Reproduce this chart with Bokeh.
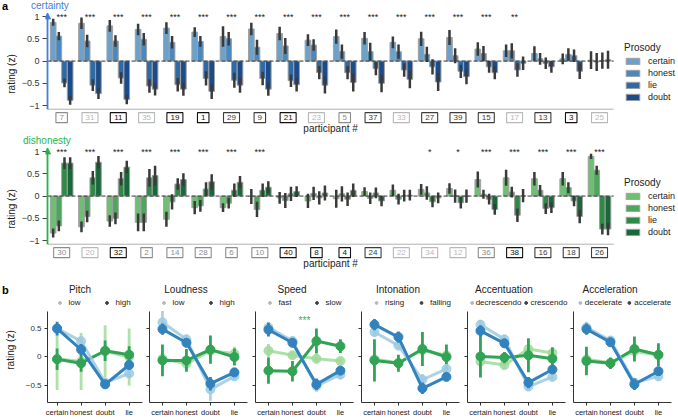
import numpy as np
from bokeh.plotting import figure
from bokeh.models import Legend, LegendItem, Arrow, NormalHead, FixedTicker, Range1d, CustomJSTickFormatter, Div
from bokeh.layouts import column, row
from bokeh.core.properties import value
from bokeh.embed import file_html
from bokeh.resources import INLINE

FONT = "Liberation Sans"
W = 678
LEFT = 45

prosody = ["certain", "honest", "lie", "doubt"]

# ---------------- panel a (top: certainty) ----------------
top_ids = ["7", "31", "11", "35", "19", "1", "29", "9", "21", "23", "5", "37", "33", "27", "39", "15", "17", "13", "3", "25"]
top_certain = [0.87, 0.85, 0.79, 0.71, 0.74, 0.65, 0.55, 0.72, 0.62, 0.47, 0.55, 0.51, 0.42, 0.50, 0.53, 0.27, 0.23, 0.17, 0.05, 0.02]
top_honest = [0.56, 0.45, 0.45, 0.49, 0.42, 0.44, 0.50, 0.31, 0.34, 0.36, 0.21, 0.21, 0.21, 0.15, 0.12, 0.17, 0.23, 0.05, 0.15, -0.02]
top_lie = [-0.49, -0.54, -0.38, -0.56, -0.53, -0.39, -0.43, -0.39, -0.44, -0.26, -0.26, -0.17, -0.20, -0.13, -0.23, -0.13, -0.20, -0.05, 0.12, 0.01]
top_doubt = [-0.88, -0.73, -0.86, -0.63, -0.63, -0.68, -0.54, -0.63, -0.53, -0.54, -0.48, -0.50, -0.41, -0.47, -0.35, -0.26, -0.05, -0.13, -0.23, 0.03]
top_err_certain = [0.08, 0.13, 0.13, 0.13, 0.13, 0.11, 0.23, 0.14, 0.15, 0.13, 0.16, 0.14, 0.13, 0.16, 0.17, 0.15, 0.14, 0.16, 0.12, 0.20]
top_err_honest = [0.09, 0.14, 0.13, 0.14, 0.14, 0.12, 0.15, 0.17, 0.18, 0.13, 0.16, 0.20, 0.16, 0.17, 0.17, 0.17, 0.17, 0.13, 0.14, 0.20]
top_err_lie = [0.10, 0.13, 0.13, 0.15, 0.15, 0.16, 0.17, 0.15, 0.14, 0.15, 0.15, 0.15, 0.15, 0.17, 0.15, 0.13, 0.15, 0.13, 0.14, 0.18]
top_err_doubt = [0.10, 0.12, 0.11, 0.14, 0.15, 0.17, 0.17, 0.15, 0.15, 0.19, 0.20, 0.20, 0.20, 0.20, 0.17, 0.15, 0.15, 0.13, 0.17, 0.20]
top_stars = ["***"] * 16 + ["**", "", "", ""]
top_box = [2, 3, 0, 3, 0, 0, 1, 1, 0, 3, 2, 1, 3, 1, 1, 1, 3, 1, 0, 3]

# ---------------- panel a (bottom: dishonesty) ----------------
bot_ids = ["30", "20", "32", "2", "14", "28", "6", "10", "40", "8", "4", "24", "22", "34", "12", "36", "38", "16", "18", "26"]
bot_certain = [-0.83, -0.69, -0.56, -0.59, -0.52, -0.26, -0.26, -0.01, -0.04, -0.11, -0.06, 0.10, 0.13, 0.15, 0.17, 0.37, 0.41, 0.39, 0.39, 0.89]
bot_honest = [-0.67, -0.46, -0.50, -0.59, -0.13, -0.22, -0.16, -0.30, -0.10, 0.06, 0.05, -0.05, -0.07, 0.07, 0.00, 0.04, 0.09, 0.13, 0.19, 0.58]
bot_lie = [0.74, 0.41, 0.39, 0.41, 0.27, 0.16, 0.13, 0.13, 0.05, -0.04, -0.07, 0.07, 0.01, -0.13, -0.15, -0.07, -0.43, -0.28, -0.11, -0.74]
bot_doubt = [0.74, 0.76, 0.65, 0.46, 0.37, 0.32, 0.31, 0.20, 0.10, 0.07, 0.13, -0.11, 0.02, -0.04, 0.00, -0.30, 0.01, -0.26, -0.46, -0.74]
bot_err_certain = [0.10, 0.12, 0.13, 0.20, 0.17, 0.15, 0.10, 0.17, 0.13, 0.16, 0.20, 0.10, 0.13, 0.12, 0.12, 0.18, 0.18, 0.15, 0.15, 0.06]
bot_err_honest = [0.12, 0.13, 0.13, 0.20, 0.17, 0.13, 0.12, 0.17, 0.17, 0.15, 0.17, 0.13, 0.12, 0.15, 0.15, 0.10, 0.12, 0.12, 0.12, 0.10]
bot_err_lie = [0.13, 0.15, 0.15, 0.20, 0.13, 0.15, 0.15, 0.15, 0.16, 0.15, 0.15, 0.12, 0.13, 0.12, 0.13, 0.12, 0.15, 0.12, 0.12, 0.12]
bot_err_doubt = [0.13, 0.14, 0.14, 0.22, 0.14, 0.17, 0.14, 0.13, 0.12, 0.17, 0.15, 0.12, 0.12, 0.12, 0.15, 0.12, 0.15, 0.12, 0.15, 0.14]
bot_stars = ["***"] * 8 + ["", "", "", "", ""] + ["*", "*"] + ["***"] * 5
bot_box = [2, 3, 0, 2, 2, 2, 2, 2, 0, 0, 0, 1, 3, 3, 3, 2, 0, 1, 1, 1]

# ---------------- panel b ----------------
b_categories = ["certain", "honest", "doubt", "lie"]
features = ["Pitch", "Loudness", "Speed", "Intonation", "Accentuation", "Acceleration"]
level_lo = ["low", "low", "fast", "rising", "decrescendo", "decelerate"]
level_hi = ["high", "high", "slow", "falling", "crescendo", "accelerate"]

pitch_cert_lo = [0.50, 0.28, -0.45, -0.29]; pitch_cert_lo_err = [0.08, 0.07, 0.07, 0.08]
pitch_cert_hi = [0.50, 0.13, -0.48, -0.14]; pitch_cert_hi_err = [0.12, 0.10, 0.07, 0.08]
pitch_dish_lo = [-0.03, -0.08, 0.10, 0.00]; pitch_dish_lo_err = [0.55, 0.50, 0.46, 0.50]
pitch_dish_hi = [-0.04, -0.11, 0.11, 0.04]; pitch_dish_hi_err = [0.19, 0.15, 0.18, 0.15]

loud_cert_lo = [0.61, 0.31, -0.57, -0.34]; loud_cert_lo_err = [0.20, 0.08, 0.20, 0.07]
loud_cert_hi = [0.49, 0.25, -0.47, -0.27]; loud_cert_hi_err = [0.10, 0.08, 0.12, 0.07]
loud_dish_lo = [-0.03, -0.12, 0.11, 0.06]; loud_dish_lo_err = [0.15, 0.12, 0.13, 0.12]
loud_dish_hi = [-0.06, -0.06, 0.13, 0.00]; loud_dish_hi_err = [0.28, 0.20, 0.25, 0.15]

speed_cert_lo = [0.52, 0.28, -0.51, -0.31]; speed_cert_lo_err = [0.10, 0.08, 0.10, 0.08]
speed_cert_hi = [0.48, 0.25, -0.48, -0.24]; speed_cert_hi_err = [0.12, 0.08, 0.10, 0.07]
speed_dish_lo = [0.11, 0.03, -0.03, -0.07]; speed_dish_lo_err = [0.12, 0.06, 0.08, 0.05]
speed_dish_hi = [-0.24, -0.25, 0.28, 0.19]; speed_dish_hi_err = [0.23, 0.18, 0.22, 0.12]

inton_cert_lo = [0.44, 0.20, -0.40, -0.21]; inton_cert_lo_err = [0.08, 0.07, 0.10, 0.08]
inton_cert_hi = [0.57, 0.35, -0.55, -0.35]; inton_cert_hi_err = [0.10, 0.10, 0.10, 0.07]
inton_dish_lo = [-0.04, -0.10, 0.12, 0.03]; inton_dish_lo_err = [0.08, 0.08, 0.08, 0.08]
inton_dish_hi = [-0.06, -0.11, 0.14, 0.00]; inton_dish_hi_err = [0.37, 0.15, 0.30, 0.22]

accent_cert_lo = [0.57, 0.31, -0.52, -0.35]; accent_cert_lo_err = [0.08, 0.08, 0.08, 0.07]
accent_cert_hi = [0.46, 0.24, -0.45, -0.22]; accent_cert_hi_err = [0.10, 0.08, 0.10, 0.08]
accent_dish_lo = [-0.08, -0.14, 0.14, 0.07]; accent_dish_lo_err = [0.08, 0.08, 0.08, 0.08]
accent_dish_hi = [0.01, -0.01, 0.03, -0.03]; accent_dish_hi_err = [0.37, 0.10, 0.30, 0.20]

accel_cert_lo = [0.52, 0.29, -0.45, -0.34]; accel_cert_lo_err = [0.10, 0.08, 0.08, 0.08]
accel_cert_hi = [0.49, 0.26, -0.48, -0.25]; accel_cert_hi_err = [0.10, 0.08, 0.10, 0.08]
accel_dish_lo = [-0.04, -0.10, 0.10, 0.03]; accel_dish_lo_err = [0.12, 0.08, 0.10, 0.08]
accel_dish_hi = [-0.07, -0.11, 0.14, 0.04]; accel_dish_hi_err = [0.25, 0.10, 0.22, 0.20]

speed_sig_text = "***"
speed_sig_between = (1, 2)   # between 'honest' and 'doubt'
speed_sig_y = 0.65

# ---------------- styles ----------------
blues = ["#6aa2cc", "#4a88c0", "#2f6aa8", "#1c4b8a"]
greens = ["#6fbf73", "#4ea55d", "#2f8a47", "#17683a"]
box_colors = ["#111111", "#3c3c3c", "#8c8c8c", "#b8b8b8"]
CERT_COL = "#3d7fdc"
DISH_COL = "#1fb54a"
B_BLUE, B_BLUE_L = "#3182bd", "#9ecae1"
B_GREEN, B_GREEN_L = "#31a354", "#a1d99b"

BAR_LO, BAR_HI = -1.08, 1.08      # extent of the bar area (axis line / arrow tip)
Y_LO, Y_HI = -1.67, 1.09          # frame range (room for participant labels)
LABEL_Y = -1.27
XLABEL_Y = -1.52
X_LEFT = -0.571
X_EXTRA = 2.29                     # room for the legend inside the frame
HA = 123
LEGEND_POS = (579, 33)             # legend offset inside the frame, screen px


def common(p):
    p.grid.visible = False
    p.outline_line_color = None
    p.background_fill_color = "white"
    p.border_fill_color = "white"


def make_panel_a(ids, series, errs, colors, stars, boxes, axis_color):
    n = len(ids)
    p = figure(width=W, height=HA, x_range=Range1d(X_LEFT, n - 0.5 + X_EXTRA),
               y_range=Range1d(Y_LO, Y_HI), output_backend="svg", toolbar_location=None,
               min_border_left=LEFT, min_border_right=0, min_border_top=0, min_border_bottom=0)
    common(p)
    idx = np.arange(n)
    offsets = [-0.3, -0.1, 0.1, 0.3]
    items = []
    for name, vals, col, off in zip(prosody, series, colors, offsets):
        r = p.vbar(x=idx + off, top=np.array(vals), bottom=0, width=0.2,
                   fill_color=col, line_color="#a0a0a0", line_width=1)
        items.append(LegendItem(label=name, renderers=[r]))
    for vals, err, off in zip(series, errs, offsets):
        v = np.array(vals); e = np.array(err)
        p.segment(x0=idx + off, y0=v - e, x1=idx + off, y1=v + e,
                  line_color="#3a3a3a", line_width=2.5)
    # zero line and x axis line, spanning the participant area only
    p.segment(x0=[-0.5], y0=[0], x1=[n - 0.5], y1=[0], line_color="#333333",
              line_dash="4 2", line_width=1)
    p.segment(x0=[-0.5], y0=[BAR_LO], x1=[n - 0.5], y1=[BAR_LO], line_color="#b0b0b0",
              line_width=1)
    p.text(x=idx, y=np.full(n, 0.99), text=stars, text_align="center", text_baseline="middle",
           text_font=value(FONT), text_font_size="9px", text_color="#222222")

    # participant labels with boxes
    bc = [box_colors[b] for b in boxes]
    bw = [7 + 4.5 * len(s) for s in ids]
    p.rect(x=idx, y=np.full(n, LABEL_Y), width=bw, height=10, width_units="screen",
           height_units="screen", fill_color="white", line_color=bc, line_width=1.1)
    p.text(x=idx, y=np.full(n, LABEL_Y), text=ids, text_align="center", text_baseline="middle",
           text_font=value(FONT), text_font_size="8px", text_color=bc)
    p.text(x=[(n - 1) / 2], y=[XLABEL_Y], text=["participant #"], text_align="center",
           text_baseline="middle", text_font=value(FONT), text_font_size="10px",
           text_color="#222222")

    leg = Legend(items=items, title="Prosody", location=LEGEND_POS, orientation="vertical",
                 title_text_font=FONT, title_text_font_size="10px", title_text_font_style="normal",
                 title_text_color="#222222", title_standoff=3,
                 label_text_font=FONT, label_text_font_size="9px", label_text_color="#222222",
                 glyph_width=17, glyph_height=8, label_height=10, label_standoff=7, spacing=2,
                 padding=2, margin=0, border_line_color=None, background_fill_alpha=0)
    p.add_layout(leg)

    ya = p.yaxis[0]
    ya.ticker = FixedTicker(ticks=[-1, -0.5, 0, 0.5, 1])
    ya.axis_line_color = None
    ya.major_tick_line_color = "#444444"
    ya.major_tick_out = 3
    ya.major_tick_in = 2
    ya.minor_tick_line_color = None
    ya.major_label_text_font = FONT
    ya.major_label_text_font_size = "9px"
    ya.major_label_text_color = "#333333"
    ya.major_label_standoff = 3
    ya.axis_label = "rating (z)"
    ya.axis_label_text_font = FONT
    ya.axis_label_text_font_size = "10px"
    ya.axis_label_text_font_style = "normal"
    ya.axis_label_text_color = "#222222"
    ya.axis_label_standoff = 2
    p.xaxis.visible = False

    p.add_layout(Arrow(end=NormalHead(size=6, fill_color=axis_color, line_color=axis_color),
                       x_start=-0.5, y_start=BAR_LO, x_end=-0.5, y_end=BAR_HI,
                       line_color=axis_color, line_width=1.8))
    return p


def label_div(parts, height):
    spans = "".join(
        f'<span style="position:absolute;left:{left}px;top:{top}px;line-height:{lh}px;'
        f'font-size:{size};font-weight:{weight};color:{color};white-space:nowrap;'
        f'width:{w}px;text-align:{align}">{txt}</span>'
        for (txt, left, top, lh, size, weight, color, w, align) in parts)
    html = (f'<div style="position:relative;width:{W}px;height:{height}px;'
            f"font-family:'{FONT}',Arial,sans-serif\">{spans}</div>")
    return Div(text=html, width=W, height=height, margin=(0, 0, 0, 0))


div_a = label_div([("a", 2, 0, 12, "11px", "bold", "#000", 10, "left"),
                   ("certainty", 31, 0, 12, "10px", "normal", CERT_COL, 60, "left")], 12)
top = make_panel_a(top_ids, [top_certain, top_honest, top_lie, top_doubt],
                   [top_err_certain, top_err_honest, top_err_lie, top_err_doubt],
                   blues, top_stars, top_box, CERT_COL)
div_d = label_div([("dishonesty", 23, 0, 12, "10px", "normal", DISH_COL, 70, "left")], 12)
bot = make_panel_a(bot_ids, [bot_certain, bot_honest, bot_lie, bot_doubt],
                   [bot_err_certain, bot_err_honest, bot_err_lie, bot_err_doubt],
                   greens, bot_stars, bot_box, DISH_COL)

b_data = [
    (pitch_cert_lo, pitch_cert_lo_err, pitch_cert_hi, pitch_cert_hi_err,
     pitch_dish_lo, pitch_dish_lo_err, pitch_dish_hi, pitch_dish_hi_err),
    (loud_cert_lo, loud_cert_lo_err, loud_cert_hi, loud_cert_hi_err,
     loud_dish_lo, loud_dish_lo_err, loud_dish_hi, loud_dish_hi_err),
    (speed_cert_lo, speed_cert_lo_err, speed_cert_hi, speed_cert_hi_err,
     speed_dish_lo, speed_dish_lo_err, speed_dish_hi, speed_dish_hi_err),
    (inton_cert_lo, inton_cert_lo_err, inton_cert_hi, inton_cert_hi_err,
     inton_dish_lo, inton_dish_lo_err, inton_dish_hi, inton_dish_hi_err),
    (accent_cert_lo, accent_cert_lo_err, accent_cert_hi, accent_cert_hi_err,
     accent_dish_lo, accent_dish_lo_err, accent_dish_hi, accent_dish_hi_err),
    (accel_cert_lo, accel_cert_lo_err, accel_cert_hi, accel_cert_hi_err,
     accel_dish_lo, accel_dish_lo_err, accel_dish_hi, accel_dish_hi_err),
]

HB = 122
B_LB = 5
B_LEFT = 47
leg_standoff = [6, 6, 6, 6, 1, 2]
leg_spacing = [14, 14, 14, 12, 1, 3]


def make_panel_b(k):
    first = (k == 0)
    if first:
        lb, fw, xr, xb = B_LEFT, 97, (-0.4, 3.64), (-0.4, 3.54)
    else:
        lb, fw, xr, xb = B_LB, 101, (-0.54, 3.67), (-0.54, 3.54)
    p = figure(width=lb + fw, height=HB, x_range=Range1d(*xr),
               y_range=Range1d(-0.8, 1.046), output_backend="svg", toolbar_location=None,
               min_border_left=lb, min_border_right=0, min_border_top=0, min_border_bottom=17)
    common(p)
    x = np.arange(len(b_categories))
    c_lo, c_lo_e, c_hi, c_hi_e, d_lo, d_lo_e, d_hi, d_hi_e = b_data[k]
    series = [(d_lo, d_lo_e, B_GREEN_L, 0.85), (d_hi, d_hi_e, B_GREEN, 1.0),
              (c_lo, c_lo_e, B_BLUE_L, 0.85), (c_hi, c_hi_e, B_BLUE, 1.0)]
    for vals, err, col, a in series:
        v = np.array(vals); e = np.array(err)
        p.segment(x0=x, y0=v - e, x1=x, y1=v + e, line_color=col, line_width=2.8, line_alpha=a)
        p.line(x=x, y=v, line_color=col, line_width=3, line_alpha=a)
        p.scatter(x=x, y=v, size=9, fill_color=col, line_color=col, fill_alpha=a, line_alpha=a)
    if features[k] == "Speed":
        p.text(x=[np.mean(speed_sig_between)], y=[speed_sig_y], text=[speed_sig_text],
               text_align="center", text_baseline="middle", text_font=value(FONT),
               text_font_size="10px", text_color=DISH_COL)

    # legend proxies (no visible data point)
    r_lo = p.scatter(x=[np.nan], y=[np.nan], size=7.5, fill_color="#b8b8b8", line_color="#b8b8b8")
    r_hi = p.scatter(x=[np.nan], y=[np.nan], size=7.5, fill_color="#3f3f3f", line_color="#3f3f3f")
    leg = Legend(items=[LegendItem(label=level_lo[k], renderers=[r_lo]),
                        LegendItem(label=level_hi[k], renderers=[r_hi])],
                 orientation="horizontal", location="top_center",
                 label_text_font=FONT, label_text_font_size="8px", label_text_color="#222222",
                 glyph_width=7, glyph_height=9, label_height=9,
                 label_standoff=leg_standoff[k], spacing=leg_spacing[k],
                 padding=0, margin=1, border_line_color=None, background_fill_alpha=0)
    p.add_layout(leg)

    xa = p.xaxis[0]
    xa.ticker = FixedTicker(ticks=[int(i) for i in x])
    xa.major_label_overrides = {int(i): c for i, c in zip(x, b_categories)}
    xa.bounds = xb
    xa.axis_line_color = "#333333"
    xa.major_tick_line_color = "#333333"
    xa.major_tick_out = 3
    xa.major_tick_in = 0
    xa.minor_tick_line_color = None
    xa.major_label_text_font = FONT
    xa.major_label_text_font_size = "7.5px"
    xa.major_label_text_color = "#222222"
    xa.major_label_standoff = 2

    ya = p.yaxis[0]
    ya.ticker = FixedTicker(ticks=[-0.5, 0, 0.5])
    ya.bounds = (-0.8, 0.8)
    ya.axis_line_color = "#333333"
    ya.major_tick_line_color = "#333333"
    ya.major_tick_out = 3
    ya.major_tick_in = 0
    ya.minor_tick_line_color = None
    ya.major_label_text_font = FONT
    ya.major_label_text_font_size = "8px"
    ya.major_label_text_color = "#333333"
    ya.major_label_standoff = 3
    if first:
        ya.axis_label = "rating (z)"
        ya.axis_label_text_font = FONT
        ya.axis_label_text_font_size = "10px"
        ya.axis_label_text_font_style = "normal"
        ya.axis_label_text_color = "#222222"
        ya.axis_label_standoff = 7
    else:
        ya.formatter = CustomJSTickFormatter(code="return ''")
        ya.major_label_text_font_size = "1px"
        ya.major_label_standoff = 0
    return p


bfigs = [make_panel_b(k) for k in range(len(features))]

# titles of panel b, centred over the left part of each subplot
title_parts = [("b", 2, 13, 14, "11px", "bold", "#000", 10, "left")]
fig_left = 0
for k, f in enumerate(bfigs):
    lb = B_LEFT if k == 0 else B_LB
    axis_x = fig_left + lb
    title_parts.append((features[k], axis_x + 37 - 45 - (4 if k == 0 else 0), 13, 14,
                        "10px", "normal", "#222", 90, "center"))
    fig_left += f.width
div_b = label_div(title_parts, 27)

layout = column(div_a, top, div_d, bot, div_b, row(*bfigs))

open("out.html", "w").write(file_html(layout, INLINE))
